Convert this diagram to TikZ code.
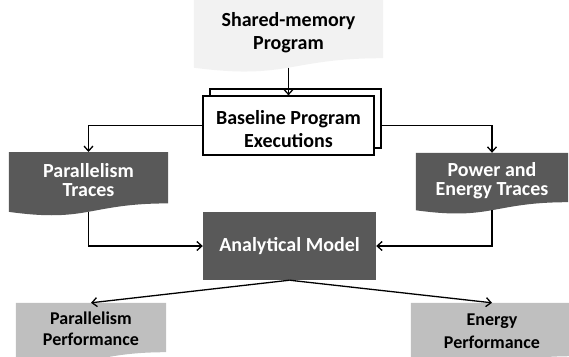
\documentclass[tikz,border=0pt]{standalone}
\usepackage{fontspec}
\setmainfont{Carlito}
\usetikzlibrary{arrows.meta,calc,backgrounds}
\definecolor{lightdoc}{HTML}{F2F2F2}
\definecolor{darkdoc}{HTML}{595959}
\definecolor{middoc}{HTML}{BFBFBF}
\newcommand\docshape[3]{%
  \fill[#2] (#1.north west) -- (#1.north east) -- (#1.south east)
    .. controls (#1.south) and ($(#1.south)+(0,-0.305*#3)$) ..
    ($(#1.south west)+(0,-0.132*#3)$) -- cycle;}
\tikzset{
  shp/.style={inner sep=0pt},
  txt/.style={inner sep=0pt, align=center, font=\fontsize{20}{23}\selectfont\bfseries},
  tighttxt/.style={inner sep=0pt, align=center, font=\fontsize{20}{19.5}\selectfont\bfseries},
  smalltxt/.style={inner sep=0pt, align=center, font=\fontsize{18}{21}\selectfont\bfseries},
  whitebox/.style={draw=black, line width=1.2pt, fill=white, inner sep=0pt, minimum width=171pt, minimum height=59pt},
  arr/.style={line width=1.3pt, -{Straight Barb[length=5pt,width=9pt]}}
}
\begin{document}
\begin{tikzpicture}[x=1pt,y=1pt]
\useasboundingbox (0,0) rectangle (569,-356);
% shape geometry
\node[shp, minimum width=189pt, minimum height=58pt] (smp) at (288.5,-29) {};
\node[shp, minimum width=159pt, minimum height=51pt] (ptr) at (88.5,-177.7) {};
\node[shp, minimum width=152pt, minimum height=49pt] (pet) at (492,-177.5) {};
\node[shp, minimum width=150pt, minimum height=49pt] (ppf) at (91,-327.5) {};
\node[shp, minimum width=162pt, minimum height=53pt] (epf) at (492,-329.5) {};
\docshape{smp}{lightdoc}{72}
\docshape{ptr}{darkdoc}{64}
\docshape{pet}{darkdoc}{61}
\docshape{ppf}{middoc}{61}
\docshape{epf}{middoc}{66}
% baseline executions (stacked)
\node[whitebox] (back) at (295.5,-118.5) {};
\node[whitebox] (base) at (288.5,-125.5) {};
% model
\node[txt, text=white, fill=darkdoc, minimum width=173pt, minimum height=68pt] (am) at (289.5,-246) {Analytical Model};
% texts
\node[txt] (smpt) at (288.5,-32.2) {Shared-memory\\Program};
\node[txt] (baset) at (288.5,-129) {Baseline Program\\Executions};
\node[tighttxt, text=white] (ptrt) at (88.5,-180) {Parallelism\\Traces};
\node[tighttxt, text=white] (pett) at (492,-180.5) {Power and\\Energy Traces};
\node[smalltxt] (ppft) at (91,-328.5) {Parallelism\\Performance};
\node[smalltxt, font=\fontsize{18}{23}\selectfont\bfseries] (epft) at (492,-331.5) {Energy\\Performance};
% connectors
\coordinate (smpb) at ($(smp.south)+(0,-0.131*72)$);
\coordinate (ptrb) at ($(ptr.south)+(0,-0.131*64)$);
\coordinate (petb) at ($(pet.south)+(0,-0.131*61)$);
\draw[arr] (smpb) -- (base.north);
\draw[arr] (base.west) -| (ptr.north);
\draw[arr] (back.east |- base.east) -| (pet.north);
\draw[arr] (ptrb) |- (am.west);
\draw[arr] (petb) |- (am.east);
\draw[arr] (am.south) -- (ppf.north);
\draw[arr] (am.south) -- (epf.north);
\end{tikzpicture}
\end{document}
